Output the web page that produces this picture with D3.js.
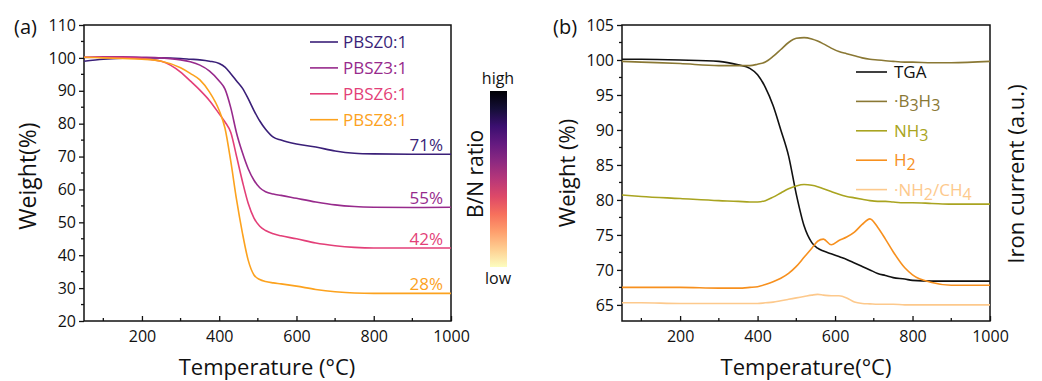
<!DOCTYPE html>
<html lang="en">
<head>
<meta charset="UTF-8">
<title>TGA</title>
<script src="https://d3js.org/d3.v7.min.js"></script>
<style>
  body { margin: 0; background: #fff; }
  text { font-family: "Open Sans", "DejaVu Sans", sans-serif; fill: #111; }
</style>
</head>
<body>
<div id="container"></div>
<script>
// ---- panel (a) data ----
var tempA = [50, 100, 150, 200, 250, 300, 325, 350, 375, 400, 415, 430, 445, 460, 475, 490, 505, 520, 540, 560, 600, 650, 700, 750, 800, 900, 1000];
var pbsz0 = [99.0, 99.6, 99.9, 100.0, 100.0, 99.8, 99.6, 99.4, 99.0, 98.3, 97.2, 95.2, 93.0, 90.8, 87.6, 84.0, 80.8, 78.3, 75.9, 75.0, 73.8, 72.9, 71.7, 71.0, 70.8, 70.7, 70.7];
var pbsz3 = [100.1, 100.3, 100.3, 100.2, 100.0, 99.4, 98.8, 97.8, 96.0, 93.0, 90.5, 84.8, 77.1, 71.2, 66.3, 62.8, 60.5, 59.3, 58.6, 58.2, 57.3, 56.2, 55.3, 54.8, 54.6, 54.5, 54.6];
var pbsz6 = [100.2, 100.2, 100.1, 99.8, 99.0, 95.7, 93.0, 90.2, 87.0, 83.0, 80.5, 77.3, 70.0, 62.5, 55.8, 51.3, 48.8, 47.5, 46.5, 45.9, 45.0, 43.7, 42.9, 42.4, 42.2, 42.2, 42.2];
var pbsz8 = [100.2, 100.0, 99.8, 99.6, 99.0, 97.0, 95.3, 93.3, 89.6, 84.0, 78.6, 68.5, 56.8, 46.8, 38.5, 34.0, 32.6, 32.0, 31.6, 31.3, 30.6, 29.6, 28.9, 28.5, 28.4, 28.4, 28.4];
var namesA = ["PBSZ0:1", "PBSZ3:1", "PBSZ6:1", "PBSZ8:1"];
var colorsA = ["#3a1f78", "#972a8c", "#e33f78", "#fca21e"];
var residueA = ["71%", "55%", "42%", "28%"];

// ---- panel (b) data ----
var tempB = [50, 100, 200, 300, 350, 380, 400, 420, 440, 460, 480, 500, 520, 540, 555, 570, 590, 610, 630, 650, 670, 690, 710, 730, 750, 780, 800, 850, 900, 1000];
var tga   = [100.1, 100.1, 100, 99.8, 99.3, 98.8, 97.9, 96.1, 93.5, 90.0, 86.3, 80.8, 76.3, 73.9, 73.1, 72.7, 72.3, 71.9, 71.5, 71.0, 70.5, 70.0, 69.5, 69.2, 68.9, 68.7, 68.5, 68.4, 68.4, 68.4];
var b3h3  = [99.8, 99.7, 99.5, 99.2, 99.2, 99.2, 99.4, 99.7, 100.5, 101.5, 102.5, 103.1, 103.2, 103, 102.7, 102.3, 101.7, 101.2, 100.9, 100.6, 100.3, 100.1, 100, 99.9, 99.8, 99.7, 99.7, 99.6, 99.6, 99.8];
var nh3   = [80.7, 80.5, 80.2, 79.9, 79.8, 79.7, 79.7, 79.9, 80.4, 81, 81.6, 82.0, 82.2, 82.1, 81.9, 81.6, 81.2, 80.8, 80.5, 80.3, 80.1, 79.9, 79.8, 79.8, 79.7, 79.6, 79.6, 79.5, 79.4, 79.4];
var h2    = [67.5, 67.5, 67.5, 67.4, 67.4, 67.5, 67.6, 67.9, 68.3, 68.8, 69.5, 70.5, 71.8, 73.1, 74.1, 74.4, 73.6, 74.2, 74.7, 75.4, 76.5, 77.3, 76.1, 74.4, 72.6, 70.3, 69.3, 68.2, 67.8, 67.8];
var nh2ch4 = [65.3, 65.3, 65.2, 65.2, 65.2, 65.2, 65.2, 65.3, 65.4, 65.6, 65.8, 66, 66.2, 66.4, 66.5, 66.4, 66.3, 66.3, 66, 65.4, 65.2, 65.15, 65.1, 65.1, 65.1, 65.0, 65.0, 65.0, 65.0, 65.0];
var colorsB = ["#111111", "#8a7834", "#a9a420", "#f7901e", "#fdc98c"];

var xTicks = [200, 400, 600, 800, 1000];
var yTicksA = [20, 30, 40, 50, 60, 70, 80, 90, 100, 110];
var yTicksB = [65, 70, 75, 80, 85, 90, 95, 100, 105];

var svg = d3.select("#container").append("svg")
  .attr("width", 1042).attr("height", 381);

var plotTop = 25, plotBottom = 321;

function panel(x0, x1, yDomain, yTicks, yMinorStep) {
  var x = d3.scaleLinear().domain([50, 1000]).range([x0, x1]);
  var y = d3.scaleLinear().domain(yDomain).range([plotBottom, plotTop]);
  var g = svg.append("g");

  // minor ticks
  d3.range(100, 1001, 200).forEach(function (t) {
    g.append("line").attr("x1", x(t)).attr("x2", x(t))
      .attr("y1", plotBottom).attr("y2", plotBottom - 3).attr("stroke", "#111").attr("stroke-width", 1.3);
  });
  d3.range(Math.ceil(yDomain[0] / yMinorStep) * yMinorStep, yDomain[1] + 0.01, yMinorStep).forEach(function (v) {
    if (yTicks.indexOf(v) >= 0) return;
    g.append("line").attr("x1", x0).attr("x2", x0 - 3)
      .attr("y1", y(v)).attr("y2", y(v)).attr("stroke", "#111").attr("stroke-width", 1.3);
  });

  var xa = g.append("g").attr("transform", "translate(0," + plotBottom + ")")
    .call(d3.axisBottom(x).tickValues(xTicks).tickFormat(d3.format("d"))
      .tickSize(-5).tickSizeOuter(0).tickPadding(10));
  var ya = g.append("g").attr("transform", "translate(" + x0 + ",0)")
    .call(d3.axisLeft(y).tickValues(yTicks).tickSize(5).tickSizeOuter(0).tickPadding(3));
  [xa, ya].forEach(function (a) {
    a.select(".domain").remove();
    a.selectAll("line").attr("stroke", "#111").attr("stroke-width", 1.3);
    a.selectAll("text").style("font-size", "16px").attr("fill", "#111");
  });
  g.append("rect").attr("x", x0).attr("y", plotTop).attr("width", x1 - x0).attr("height", plotBottom - plotTop)
    .attr("fill", "none").attr("stroke", "#111").attr("stroke-width", 1.5);
  return { x: x, y: y, g: g };
}

function drawLine(p, temps, vals, color) {
  var line = d3.line()
    .x(function (d, i) { return p.x(temps[i]); })
    .y(function (d) { return p.y(d); })
    .curve(d3.curveMonotoneX);
  p.g.append("path").datum(vals).attr("d", line)
    .attr("fill", "none").attr("stroke", color).attr("stroke-width", 1.6);
}

// ---------- panel (a) ----------
var pa = panel(84, 451, [20, 110], yTicksA, 5);
[pbsz0, pbsz3, pbsz6, pbsz8].forEach(function (s, i) { drawLine(pa, tempA, s, colorsA[i]); });

[pbsz0, pbsz3, pbsz6, pbsz8].forEach(function (s, i) {
  pa.g.append("text").attr("x", pa.x(1000) - 8).attr("y", pa.y(s[s.length - 1]) - 3)
    .attr("text-anchor", "end").style("font-size", "17px").style("fill", colorsA[i])
    .text(residueA[i]);
});

namesA.forEach(function (n, i) {
  var yy = 42 + i * 25.9;
  pa.g.append("line").attr("x1", 310).attr("x2", 338).attr("y1", yy).attr("y2", yy)
    .attr("stroke", colorsA[i]).attr("stroke-width", 1.6);
  pa.g.append("text").attr("x", 343).attr("y", yy).attr("dy", "0.35em")
    .style("font-size", "17px").style("fill", colorsA[i]).text(n);
});

svg.append("text").attr("x", 14).attr("y", 34).style("font-size", "20px").text("(a)");
svg.append("text").attr("x", 267).attr("y", 375).attr("text-anchor", "middle")
  .style("font-size", "22px").text("Temperature (°C)");
svg.append("text").attr("transform", "translate(36,176) rotate(-90)").attr("text-anchor", "middle")
  .style("font-size", "23px").text("Weight(%)");

// colour bar
var defs = svg.append("defs");
var grad = defs.append("linearGradient").attr("id", "magma")
  .attr("x1", 0).attr("x2", 0).attr("y1", 0).attr("y2", 1);
d3.range(0, 1.001, 0.1).forEach(function (t) {
  grad.append("stop").attr("offset", t).attr("stop-color", d3.interpolateMagma(t));
});
svg.append("rect").attr("x", 490).attr("y", 91).attr("width", 17).attr("height", 176)
  .attr("fill", "url(#magma)");
svg.append("text").attr("x", 498).attr("y", 84).attr("text-anchor", "middle")
  .style("font-size", "16px").text("high");
svg.append("text").attr("x", 498).attr("y", 284).attr("text-anchor", "middle")
  .style("font-size", "16px").text("low");
svg.append("text").attr("transform", "translate(483,174) rotate(-90)").attr("text-anchor", "middle")
  .style("font-size", "21px").text("B/N ratio");

// ---------- panel (b) ----------
var pb = panel(622, 990, [62.7, 105], yTicksB, 2.5);
[tga, b3h3, nh3, h2, nh2ch4].forEach(function (s, i) { drawLine(pb, tempB, s, colorsB[i]); });

var legB = [
  [["TGA", 0]],
  [["·B", 0], ["3", 1], ["H", 0], ["3", 1]],
  [["NH", 0], ["3", 1]],
  [["H", 0], ["2", 1]],
  [["·NH", 0], ["2", 1], ["/CH", 0], ["4", 1]]
];
legB.forEach(function (parts, i) {
  var yy = 72 + i * 29.4;
  pb.g.append("line").attr("x1", 856).attr("x2", 887).attr("y1", yy).attr("y2", yy)
    .attr("stroke", colorsB[i]).attr("stroke-width", 1.6);
  var t = pb.g.append("text").attr("x", 894).attr("y", yy).attr("dy", "0.35em")
    .style("font-size", "17px").style("fill", colorsB[i]);
  parts.forEach(function (p, k) {
    var ts = t.append("tspan").text(p[0]);
    if (p[1]) ts.attr("dy", 4).style("font-size", "16px");
    else if (k > 0) ts.attr("dy", -4);
  });
});

svg.append("text").attr("x", 553).attr("y", 34).style("font-size", "20px").text("(b)");
svg.append("text").attr("x", 806).attr("y", 375).attr("text-anchor", "middle")
  .style("font-size", "22px").text("Temperature(°C)");
svg.append("text").attr("transform", "translate(575,173) rotate(-90)").attr("text-anchor", "middle")
  .style("font-size", "22px").text("Weight (%)");
svg.append("text").attr("transform", "translate(1024,174) rotate(-90)").attr("text-anchor", "middle")
  .style("font-size", "22px").text("Iron current (a.u.)");
</script>
</body>
</html>
